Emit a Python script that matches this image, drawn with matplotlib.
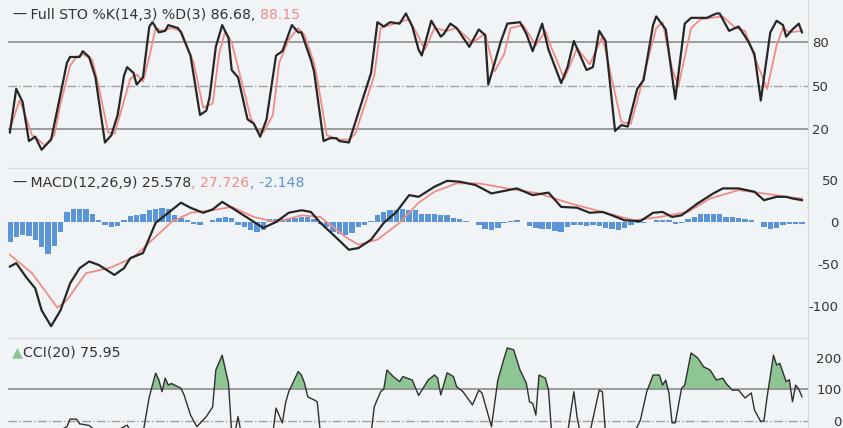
import matplotlib
matplotlib.use("Agg")
import matplotlib.pyplot as plt
import numpy as np

# Full STO %K (black) and %D (red), day index -> value
k_day = [0,2,4,6,8,10,13,15,18,19,22,23,25,27,30,32,34,36,37,39,
         40,42,44,45,47,49,50,53,54,57,60,62,63,65,67,69,70,72,75,77,
         79,81,84,86,87,89,91,92,95,96,99,101,103,104,107,108,114,116,118,120,
         123,125,127,129,130,133,136,137,139,141,145,148,150,151,155,157,161,163,165,168,
         170,174,176,178,182,184,186,188,191,193,195,198,200,203,204,207,210,213,215,220,
         223,224,227,230,233,235,237,240,242,244,245,247,249,250]
k_val = [18,48,39,12,15,6,13,34,66,70,70,74,70,56,11,16,30,57,63,59,
         51,56,91,94,87,88,92,90,87,71,30,33,42,77,92,83,61,56,27,24,
         15,27,71,74,80,92,87,87,68,60,12,14,14,12,11,18,59,94,91,94,
         93,100,91,75,71,95,84,86,93,90,77,89,85,51,81,93,94,86,74,93,
         75,52,63,81,61,63,88,81,19,23,22,48,54,92,98,89,41,93,97,97,
         100,100,88,91,81,72,40,87,95,92,84,89,93,87]
d_day = [0,3,4,7,9,11,14,16,19,21,23,26,28,31,33,35,38,40,42,44,
         46,48,51,54,58,61,64,66,68,70,72,76,78,80,83,85,88,91,93,96,
         97,100,104,107,109,115,117,120,123,126,129,131,134,138,141,146,150,153,156,158,
         162,166,169,171,175,179,183,187,193,196,199,204,206,209,211,215,218,225,229,232,
         235,239,242,244,246,250]
d_val = [20,40,35,16,13,9,16,38,64,70,72,68,50,18,17,32,55,58,53,70,
         90,88,90,88,66,35,38,72,88,80,63,28,20,18,30,66,82,90,85,66,
         55,16,13,13,17,57,90,92,94,96,84,75,90,88,90,80,86,60,72,90,
         92,78,88,76,55,76,65,84,25,24,48,90,94,62,50,90,96,98,90,88,
         70,48,78,90,87,88]

# MACD line (black), signal (red), histogram (blue, every 2 days)
m_day = [0,2,5,8,10,13,16,19,22,25,28,33,36,38,42,46,50,54,57,61,
         64,67,70,75,80,84,88,92,95,98,102,107,110,114,118,122,126,129,134,138,
         142,147,152,156,160,165,170,174,179,183,187,190,194,199,203,206,209,212,217,222,
         225,230,235,238,242,245,247,250]
m_val = [-53,-49,-65,-79,-105,-124,-105,-73,-55,-47,-51,-63,-55,-43,-37,-1,11,23,17,11,
         15,24,17,5,-7,0,11,14,12,-1,-15,-33,-31,-21,-1,12,32,30,42,49,
         48,44,34,37,40,32,35,18,17,11,12,8,2,1,11,12,6,8,22,34,
         40,40,36,26,30,30,28,26]
s_day = [0,7,15,18,24,32,39,45,51,57,64,70,77,84,92,98,106,110,116,123,
         129,134,141,148,157,167,177,188,197,205,214,221,230,238,245,250]
s_val = [-39,-61,-102,-93,-61,-54,-42,-21,0,11,14,18,6,0,8,6,-18,-27,-21,-1,
         23,36,46,46,40,34,22,11,2,6,12,28,38,34,30,28]
hist = [-24,-18,-16,-17,-22,-30,-38,-28,-12,12,
        15,15,15,10,2,-3,-6,-5,2,7,
        8,10,14,16,17,16,8,5,2,-2,
        -4,0,2,5,6,5,-3,-6,-10,-12,
        -9,3,4,3,4,5,6,6,4,-2,
        -6,-12,-14,-15,-13,-6,-3,1,8,12,
        14,14,15,14,14,
        9,9,9,8,8,5,3,1,0,-4,
        -8,-9,-7,-1,1,2,0,-5,-7,-8,
        -8,-11,-12,-6,-4,-4,-5,-3,-5,-7,
        -8,-9,-7,-4,-1,-1,0,2,2,2,
        -2,-1,3,6,9,10,10,9,6,6,
        5,3,2,0,-6,-8,-7,-3,-2,-2,
        -2]

# CCI(20)
c_day = [0,9,16,18,19,21,22,25,28,34,37,39,42,44,46,47,48,49,50,51,
         54,55,57,59,62,64,65,67,69,70,71,72,73,77,83,84,86,87,88,91,
         92,93,94,96,97,98,104,110,114,115,117,118,119,121,123,124,127,129,132,134,
         135,136,138,140,141,143,146,148,149,152,154,156,157,159,161,163,164,165,166,167,
         169,170,171,176,178,179,180,183,186,187,188,197,199,201,203,205,206,207,208,209,
         210,212,213,215,217,219,221,223,225,226,228,230,232,234,235,237,238,239,241,242,
         243,245,246,247,248,249,250]
c_val = [-80,-60,-30,-19,5,5,-10,-15,-40,-30,-14,-50,-40,76,151,130,92,135,113,118,
         103,81,18,-19,13,44,161,208,119,-40,-40,13,-40,-60,-40,40,-7,56,92,156,
         145,119,76,66,60,-40,-70,-60,-40,44,92,100,161,140,124,140,129,80,129,145,
         135,82,152,140,108,92,50,97,88,-19,129,199,231,225,161,119,60,55,18,145,
         135,97,-40,-40,92,13,-40,-40,97,92,-40,-40,2,92,145,145,113,129,88,-7,
         -7,103,113,215,200,171,161,129,135,119,97,97,72,88,34,-3,0,76,208,177,
         182,124,130,60,113,100,76]

sto_ticks = [20, 50, 80]
macd_ticks = [-100, -50, 0, 50]
cci_ticks = [0, 100, 200]

bg = "#f1f4f7"
black = "#262626"
red = "#f08c84"
blue = "#5b95d8"
green = "#8dc593"
gline = "#8c8c8c"

W, H = 843, 428
fig = plt.figure(figsize=(W / 100, H / 100), dpi=100, facecolor=bg)
plt.rcParams['font.family'] = ['DejaVu Sans']

def make_ax(top, bottom):
    ax = fig.add_axes([8 / W, 1 - bottom / H, 800 / W, (bottom - top) / H])
    ax.set_facecolor(bg)
    ax.set_xlim(-0.6, 251.9)
    ax.set_xticks([])
    for s in ["left", "top", "bottom"]:
        ax.spines[s].set_visible(False)
    ax.spines["right"].set_color("#d6d6d6")
    ax.yaxis.tick_right()
    ax.tick_params(axis="y", length=0, labelsize=9.5, colors="#333333")
    return ax

def title(ax, y, parts):
    prev = None
    for txt, col in parts:
        if prev is None:
            prev = ax.text(0.005, y, txt, transform=ax.transAxes, color=col,
                           fontsize=10.2, va="center", ha="left")
        else:
            prev = ax.annotate(txt, xy=(1, 0), xycoords=prev, color=col,
                               fontsize=10.2, va="bottom", ha="left")

# --- STO panel
ax1 = make_ax(0, 166)
ax1.set_ylim(-5.2, 109.3)
ax1.axhline(80, color=gline, lw=1.2)
ax1.axhline(20, color=gline, lw=1.2)
ax1.axhline(50, color="#a0a0a0", lw=1.0, ls="-.")
ax1.plot(d_day, d_val, color=red, lw=1.3)
ax1.plot(k_day, k_val, color=black, lw=1.6)
ax1.set_yticks(sto_ticks)
ax1.tick_params(axis="y", pad=3)
title(ax1, 0.91, [("\u2014", black), (" Full STO %K(14,3) %D(3) 86.68, ", "#333333"), ("88.15", red)])

# --- MACD panel
ax2 = make_ax(168, 336)
ax2.set_ylim(-135.7, 64.3)
hist_day = np.arange(0, 2 * len(hist), 2)
ax2.bar(hist_day, hist, width=1.7, color=blue, linewidth=0)
ax2.plot(s_day, s_val, color=red, lw=1.3)
ax2.plot(m_day, m_val, color=black, lw=1.6)
ax2.set_yticks(macd_ticks)
ax2.set_yticklabels([str(t) for t in macd_ticks], ha="right")
ax2.tick_params(axis="y", pad=22)
ax2.plot([0, 1], [1, 1], transform=ax2.transAxes, color="#dcdcdc", lw=1, clip_on=False)
title(ax2, 0.91, [("\u2014", black), (" MACD(12,26,9) 25.578", "#333333"), (", 27.726", red), (", -2.148", blue)])

# --- CCI panel
ax3 = make_ax(338, 428)
ax3.set_ylim(-23.2, 262.5)
c_arr = np.array(c_val)
ax3.fill_between(c_day, c_arr, 100, where=c_arr > 100, interpolate=True,
                 color=green, linewidth=0)
ax3.axhline(100, color=gline, lw=1.2)
ax3.axhline(0, color="#a0a0a0", lw=1.0, ls="-.")
ax3.plot(c_day, c_val, color="#303030", lw=1.0)
ax3.set_yticks(cci_ticks)
ax3.set_yticklabels([str(t) for t in cci_ticks], ha="right")
ax3.tick_params(axis="y", pad=24)
ax3.plot([0, 1], [1, 1], transform=ax3.transAxes, color="#dcdcdc", lw=1, clip_on=False)
title(ax3, 0.84, [("\u25b2", green), ("CCI(20) 75.95", "#333333")])

fig.savefig("out.png", dpi=100, facecolor=bg)
